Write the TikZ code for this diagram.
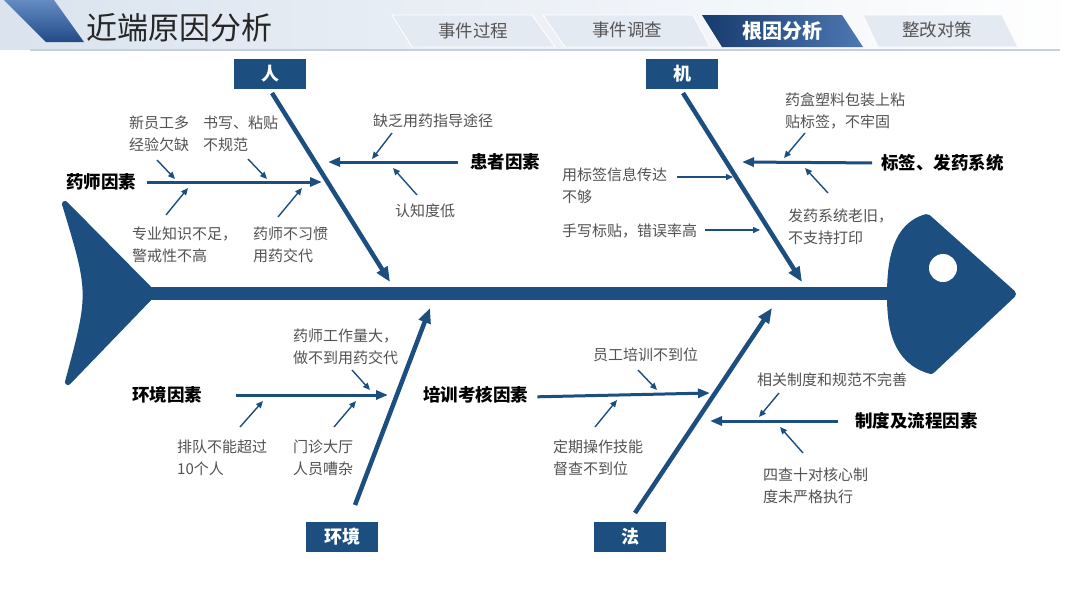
\documentclass[tikz,border=0pt]{standalone}
\usepackage{fontspec}
\setmainfont{Noto Sans CJK SC}
\usetikzlibrary{arrows.meta}
\definecolor{fish}{RGB}{28,78,128}
\definecolor{annocol}{RGB}{82,82,82}
\definecolor{hdrA}{RGB}{218,227,238}
\definecolor{hdrB}{RGB}{234,239,245}
\definecolor{hdrline}{RGB}{196,208,222}
\definecolor{tabfill}{RGB}{228,234,241}
\definecolor{tabtext}{RGB}{85,85,85}
\definecolor{tabdarkA}{RGB}{22,58,108}
\definecolor{tabdarkB}{RGB}{78,120,180}
\definecolor{ribA}{RGB}{100,140,195}
\definecolor{ribB}{RGB}{34,74,134}
\begin{document}
\begin{tikzpicture}[x=1pt,y=-1pt,
  bone/.style={draw=fish, line width=4.5pt, -{Triangle[length=15pt,width=12pt]}},
  factor/.style={draw=fish, line width=3pt, -{Triangle[length=12pt,width=9pt]}},
  small/.style={draw=fish, line width=1.4pt, -{Triangle[length=7pt,width=6pt]}},
  anno/.style={font=\fontsize{15}{22}\selectfont, text=annocol, align=left, anchor=west, inner sep=0pt},
  factorlabel/.style={font=\bfseries\fontsize{17.5}{20}\selectfont, text=black, anchor=west, inner sep=0pt},
  catbox/.style={fill=fish, text=white, font=\bfseries\fontsize{18}{20}\selectfont, minimum width=72pt, minimum height=30pt, inner sep=0pt},
  tabshape/.style={fill=tabfill, draw=white, line width=0.8pt},
  tablabel/.style={font=\fontsize{17.5}{20}\selectfont, text=tabtext, inner sep=0pt}
]
\useasboundingbox (0,0) rectangle (1080,608);
\fill[white] (0,0) rectangle (1080,608);

% ---------- header ----------
\shade[left color=hdrA, middle color=hdrB, right color=white] (0,0) rectangle (1080,49);
\draw[hdrline, line width=2pt] (30,50) -- (1060,50);
\shade[top color=ribA, bottom color=ribB] (4,0) -- (54,0) -- (84,42) -- (46,42) -- cycle;
\node[anchor=west, inner sep=0pt, font=\fontsize{31}{33}\selectfont, text={rgb,255:red,38;green,38;blue,38}] (title) at (86,28) {近端原因分析};

\fill[tabshape] (392,15) -- (532,15) -- (555,47) -- (412,47) -- cycle;
\node[tablabel] (tab1) at (473,31) {事件过程};
\fill[tabshape] (543,15) -- (693,15) -- (710,47) -- (565,47) -- cycle;
\node[tablabel] (tab2) at (627,30) {事件调查};
\shade[left color=tabdarkA, right color=tabdarkB] (702,15) -- (842,15) -- (863,47) -- (722,47) -- cycle;
\node[tablabel, text=white, font=\bfseries\fontsize{20}{22}\selectfont] (tab3) at (782,31) {根因分析};
\fill[tabshape] (863,15) -- (1002,15) -- (1018,47) -- (878,47) -- cycle;
\node[tablabel] (tab4) at (937,30) {整改对策};

% ---------- fish body ----------
\filldraw[fill=fish, draw=fish, line width=6pt, line join=round]
  (149,289) -- (65,204) .. controls (92,293) .. (68,382) -- (149,298) -- cycle;
\fill[fish] (140,287) rectangle (900,300);
\filldraw[fill=fish, draw=fish, line width=8pt, line join=round]
  (927,218) -- (1012,294) -- (931,370)
  .. controls (895,360) and (891,325) .. (891,295)
  .. controls (891,262) and (896,226) .. (927,218) -- cycle;
\fill[white] (943,268) circle (14);

% ---------- category boxes ----------
\node[catbox] (ren) at (270,74) {人};
\node[catbox] (ji) at (682,74) {机};
\node[catbox] (hj) at (342,537) {环境};
\node[catbox] (fa) at (630,537) {法};

% main bones
\coordinate (ren0) at (272,93);  \coordinate (ren1) at (390,282);
\coordinate (ji0) at (683,93);   \coordinate (ji1) at (802,282);
\coordinate (hj0) at (355,505);  \coordinate (hj1) at (430,308);
\coordinate (fa0) at (635,513);  \coordinate (fa1) at (772,308);
\draw[bone] (ren0) -- (ren1);
\draw[bone] (ji0) -- (ji1);
\draw[bone] (hj0) -- (hj1);
\draw[bone] (fa0) -- (fa1);

% ---------- factor labels ----------
\node[factorlabel] (yaoshi) at (66,182) {药师因素};
\node[factorlabel] (huanzhe) at (470,162) {患者因素};
\node[factorlabel] (biaoqian) at (881,163) {标签、发药系统};
\node[factorlabel] (huanjing) at (132,395) {环境因素};
\node[factorlabel] (peixun) at (423,395) {培训考核因素};
\node[factorlabel] (zhidu) at (855,421) {制度及流程因素};

\coordinate (f1) at (322,182);
\coordinate (f2) at (328,162);
\coordinate (f3) at (742,162);
\coordinate (f4) at (388,395);
\coordinate (f5) at (710,393);
\coordinate (f6) at (710,421);
\draw[factor, shorten <=11pt] (yaoshi.east) -- (f1);
\draw[factor, shorten <=12pt] (huanzhe.west) -- (f2);
\draw[factor, shorten <=9pt] (biaoqian.west) -- (f3);
\draw[factor, shorten <=34pt] (huanjing.east) -- (f4);
\draw[factor, shorten <=9pt] ([yshift=-2pt]peixun.east) -- (f5);
\draw[factor, shorten <=17pt] (zhidu.west) -- (f6);

% ---------- annotations ----------
\node[anno] (a1) at (129,134) {新员工多\\经验欠缺};
\node[anno] (a2) at (203,134) {书写、粘贴\\不规范};
\node[anno] (a3) at (132,245) {专业知识不足，\\警戒性不高};
\node[anno] (a4) at (253,245) {药师不习惯\\用药交代};
\node[anno] (a5) at (373,121) {缺乏用药指导途径};
\node[anno] (a6) at (395,211) {认知度低};

\node[anno] (b1) at (785,111) {药盒塑料包装上粘\\贴标签，不牢固};
\node[anno] (b2) at (788,227) {发药系统老旧，\\不支持打印};
\node[anno] (b3) at (562,186) {用标签信息传达\\不够};
\node[anno] (b4) at (562,231) {手写标贴，错误率高};

\node[anno] (c1) at (293,347) {药师工作量大，\\做不到用药交代};
\node[anno] (c2) at (177,458) {排队不能超过\\10个人};
\node[anno] (c3) at (293,458) {门诊大厅\\人员嘈杂};

\node[anno] (d1) at (593,355) {员工培训不到位};
\node[anno] (d2) at (553,458) {定期操作技能\\督查不到位};
\node[anno] (d3) at (757,380) {相关制度和规范不完善};
\node[anno] (d4) at (763,486) {四查十对核心制\\度未严格执行};

% small arrows
\coordinate (s1a) at (157,160); \coordinate (s1b) at (175,179);
\coordinate (s2a) at (248,159); \coordinate (s2b) at (267,179);
\coordinate (s3a) at (166,215); \coordinate (s3b) at (188,188);
\coordinate (s4a) at (278,217); \coordinate (s4b) at (302,188);
\coordinate (s5a) at (392,133); \coordinate (s5b) at (372,159);
\coordinate (s6a) at (417,195); \coordinate (s6b) at (393,168);
\coordinate (s7a) at (805,133); \coordinate (s7b) at (784,158);
\coordinate (s8a) at (828,193); \coordinate (s8b) at (805,168);
\coordinate (s9a) at (677,177); \coordinate (s9b) at (733,177);
\coordinate (s10a) at (705,230); \coordinate (s10b) at (760,230);
\coordinate (s11a) at (352,370); \coordinate (s11b) at (370,390);
\coordinate (s12a) at (240,427); \coordinate (s12b) at (263,401);
\coordinate (s13a) at (334,427); \coordinate (s13b) at (356,401);
\coordinate (s14a) at (638,370); \coordinate (s14b) at (657,390);
\coordinate (s15a) at (595,427); \coordinate (s15b) at (617,400);
\coordinate (s16a) at (779,393); \coordinate (s16b) at (759,417);
\coordinate (s17a) at (803,453); \coordinate (s17b) at (780,427);
\foreach \i in {1,...,17} {\draw[small] (s\i a) -- (s\i b);}
\end{tikzpicture}
\end{document}
